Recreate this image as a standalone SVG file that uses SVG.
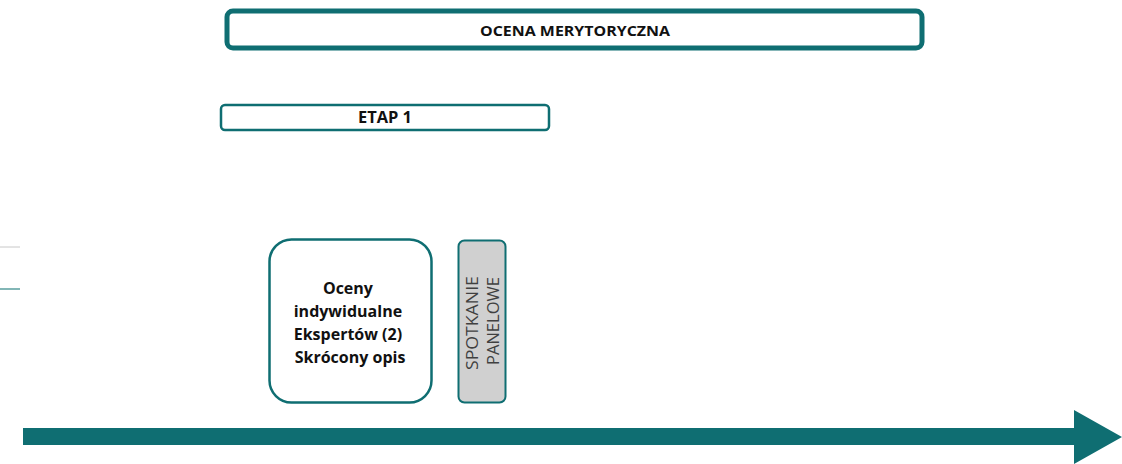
<svg xmlns="http://www.w3.org/2000/svg" width="1122" height="464" viewBox="0 0 1122 464">
<style>
.box{fill:#ffffff;stroke:#0f6e72}
.t{font-family:"Open Sans","Liberation Sans",sans-serif;font-weight:bold;fill:#111;text-anchor:middle}
.v{font-family:"Open Sans","Liberation Sans",sans-serif;fill:#404040;text-anchor:middle;font-size:16px}
</style>
<rect width="1122" height="464" fill="#ffffff"/>
<g id="ocena">
<rect class="box" x="227" y="11" width="695" height="37" rx="6" stroke-width="5"/>
<text class="t" x="575" y="36" font-size="15" textLength="190" lengthAdjust="spacingAndGlyphs">OCENA MERYTORYCZNA</text>
</g>
<g id="etap1">
<rect class="box" x="221" y="105" width="328" height="25" rx="4" stroke-width="2.5"/>
<text class="t" x="385" y="123" font-size="16" textLength="54" lengthAdjust="spacingAndGlyphs">ETAP 1</text>
</g>
<g id="marks">
<line x1="0" y1="247" x2="20" y2="247" stroke="#c8c8c8" stroke-width="1"/>
<line x1="0" y1="289" x2="20" y2="289" stroke="#2f8585" stroke-width="1.2"/>
</g>
<g id="oceny">
<rect class="box" x="269.5" y="239.5" width="162" height="163" rx="22" stroke-width="2.5"/>
<text class="t" font-size="16" x="350">
<tspan x="350" y="294">Oceny</tspan>
<tspan x="350" y="317">indywidualne</tspan>
<tspan x="350" y="340">Ekspertów (2)</tspan>
<tspan x="350" y="363">Skrócony opis</tspan>
</text>
</g>
<g id="spotkanie">
<rect x="458.5" y="240.5" width="47" height="162" rx="6" fill="#d0d0d0" stroke="#0f6e72" stroke-width="2"/>
<text class="v" transform="translate(482 321) rotate(-90)">
<tspan x="0" y="-4" textLength="94" lengthAdjust="spacingAndGlyphs">SPOTKANIE</tspan>
<tspan x="0" y="17" textLength="88" lengthAdjust="spacingAndGlyphs">PANELOWE</tspan>
</text>
</g>
<g id="connectors">
<polygon points="23,428 1074,428 1074,410 1122,437 1074,464 1074,445 23,445" fill="#0f6e72"/>
</g>
</svg>
